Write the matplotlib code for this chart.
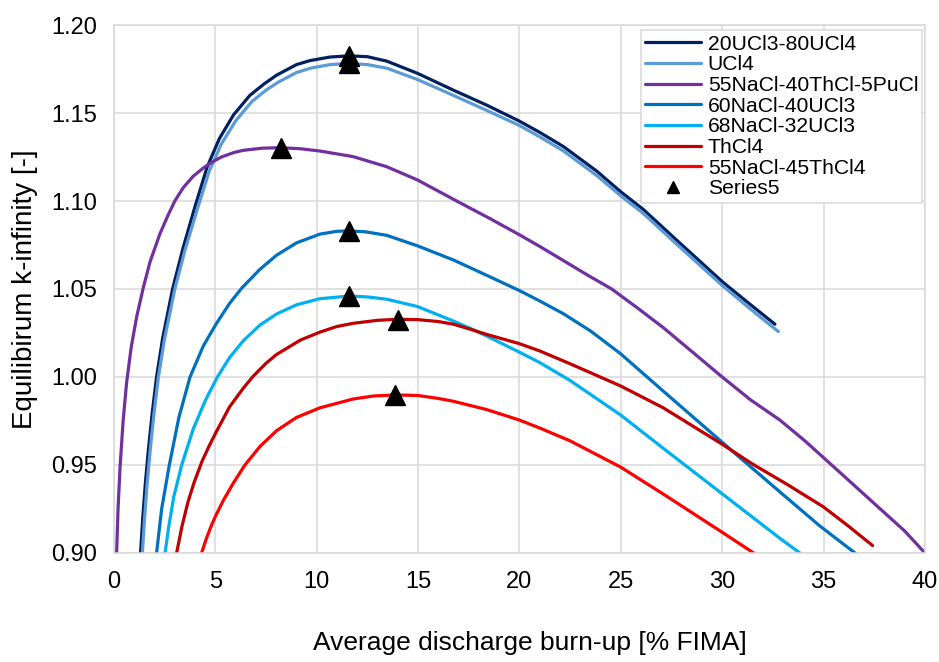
"""Equilibrium k-infinity versus average discharge burn-up for several salts.

Peak markers (Series5) sit on top of each curve's maximum.
"""

import matplotlib
matplotlib.use("Agg")
import matplotlib.pyplot as plt

plt.rcParams["font.family"] = ["Liberation Sans", "DejaVu Sans"]

# ── data ─────────────────────────────────────────────────────────────────
UCL3_UCL4_X = [1.31, 1.42, 1.55, 1.70, 1.88, 2.10, 2.40, 2.89, 3.40, 4.00, 4.60, 5.20,
               5.90, 6.70, 7.40, 8.02, 9.00, 9.67, 10.65, 11.60, 12.50, 13.45, 14.98,
               16.74, 18.38, 19.98, 21.00, 22.16, 23.81, 24.99, 26.10, 27.75, 30.00,
               31.30, 32.60]
UCL3_UCL4_Y = [0.900, 0.920, 0.940, 0.959, 0.979, 1.000, 1.022, 1.050, 1.073, 1.097,
               1.1195, 1.1355, 1.149, 1.160, 1.1665, 1.1715, 1.1775, 1.1798, 1.1818,
               1.1825, 1.182, 1.1795, 1.1725, 1.163, 1.1545, 1.1455, 1.139, 1.131, 1.117,
               1.1053, 1.0953, 1.0778, 1.0542, 1.042, 1.030]

UCL4_X = [1.40, 1.51, 1.64, 1.79, 1.97, 2.19, 2.50, 3.00, 3.50, 4.10, 4.70, 5.30, 6.00,
          6.80, 7.50, 8.10, 9.00, 9.70, 10.65, 11.60, 12.50, 13.45, 14.98, 16.74, 18.38,
          19.98, 21.00, 22.16, 23.81, 24.99, 26.10, 27.75, 30.00, 31.30, 32.77]
UCL4_Y = [0.900, 0.920, 0.940, 0.959, 0.979, 1.000, 1.022, 1.050, 1.072, 1.095, 1.117,
          1.1325, 1.1455, 1.1565, 1.163, 1.1675, 1.1730, 1.1755, 1.1775, 1.1782, 1.1775,
          1.1755, 1.169, 1.160, 1.1515, 1.1430, 1.1365, 1.1285, 1.1145, 1.1030, 1.0930,
          1.0755, 1.0520, 1.0395, 1.0258]

PUCL_X = [0.13, 0.20, 0.30, 0.45, 0.62, 0.85, 1.12, 1.45, 1.78, 2.27, 2.65, 3.00, 3.41,
          3.90, 4.40, 4.73, 5.30, 5.90, 6.37, 7.30, 8.20, 9.20, 10.16, 11.80, 13.45, 14.98,
          16.90, 18.50, 20.00, 21.00, 22.16, 23.30, 24.55, 25.80, 27.10, 28.50, 30.00,
          31.40, 32.85, 34.10, 35.40, 36.60, 37.80, 39.00, 40.00]
PUCL_Y = [0.900, 0.925, 0.949, 0.975, 0.9966, 1.017, 1.0343, 1.051, 1.0655, 1.0815,
          1.0915, 1.100, 1.1075, 1.1140, 1.1187, 1.1214, 1.1250, 1.1275, 1.1288, 1.1300,
          1.1303, 1.1297, 1.1284, 1.1252, 1.1195, 1.1119, 1.100, 1.0903, 1.0808, 1.0742,
          1.0662, 1.0583, 1.050, 1.0394, 1.028, 1.0145, 1.000, 0.987, 0.9755, 0.9635,
          0.950, 0.9375, 0.925, 0.9125, 0.900]

NACL_UCL3_40_X = [2.10, 2.35, 2.73, 3.20, 3.75, 4.40, 5.03, 5.70, 6.30, 7.20, 8.02, 9.00,
                  10.16, 11.00, 11.60, 12.40, 13.45, 14.98, 16.74, 18.38, 19.98, 21.00,
                  22.16, 23.50, 24.99, 27.09, 29.97, 31.50, 33.00, 34.80, 36.55]
NACL_UCL3_40_Y = [0.900, 0.925, 0.950, 0.977, 1.000, 1.0175, 1.0300, 1.0418, 1.0505,
                  1.0612, 1.0692, 1.0762, 1.0812, 1.0828, 1.0830, 1.0825, 1.0805, 1.0745,
                  1.0665, 1.0578, 1.0492, 1.0432, 1.0360, 1.0262, 1.0132, 0.9920, 0.9632,
                  0.9480, 0.9332, 0.9155, 0.900]

NACL_UCL3_32_X = [2.52, 2.70, 2.95, 3.34, 3.91, 4.50, 5.10, 5.70, 6.37, 7.20, 8.02, 9.00,
                  10.16, 11.60, 12.50, 13.45, 14.98, 16.74, 17.56, 18.38, 19.98, 21.00,
                  22.50, 24.99, 27.09, 29.97, 32.85, 33.83]
NACL_UCL3_32_Y = [0.900, 0.915, 0.932, 0.950, 0.9705, 0.9865, 1.000, 1.0110, 1.0205,
                  1.0295, 1.0358, 1.0410, 1.0445, 1.0460, 1.0455, 1.0442, 1.0400, 1.0318,
                  1.0277, 1.0233, 1.0142, 1.0082, 0.998, 0.9784, 0.9595, 0.9339, 0.9083,
                  0.900]

THCL4_X = [3.09, 3.35, 3.65, 3.95, 4.34, 4.70, 5.03, 5.70, 6.37, 6.87, 7.50, 8.02, 9.20,
           10.16, 11.00, 11.80, 13.00, 13.99, 14.98, 16.00, 16.74, 17.56, 18.38, 19.98,
           21.00, 22.50, 24.99, 27.09, 29.97, 31.50, 33.20, 34.98, 36.20, 37.42]
THCL4_Y = [0.900, 0.915, 0.929, 0.940, 0.952, 0.961, 0.9685, 0.983, 0.9935, 1.0005,
           1.0078, 1.0128, 1.0210, 1.0255, 1.0287, 1.0305, 1.0322, 1.0328, 1.0326, 1.0315,
           1.0300, 1.0272, 1.0242, 1.0190, 1.0148, 1.0075, 0.9949, 0.9825, 0.962, 0.9505,
           0.939, 0.9263, 0.9155, 0.9042]

NACL_THCL4_X = [4.32, 4.55, 4.80, 5.03, 5.40, 5.90, 6.46, 7.20, 8.02, 9.00, 10.16, 10.65,
                11.80, 12.80, 13.86, 14.98, 16.00, 16.74, 18.38, 19.98, 21.00, 22.50,
                24.99, 27.09, 29.97, 31.55]
NACL_THCL4_Y = [0.900, 0.908, 0.9155, 0.9215, 0.930, 0.940, 0.950, 0.9605, 0.9695, 0.977,
                0.9825, 0.984, 0.9875, 0.9892, 0.9898, 0.9895, 0.9878, 0.9862, 0.9815,
                0.9756, 0.971, 0.9637, 0.9488, 0.9335, 0.912, 0.900]

PEAK_X = [11.60, 11.60, 8.22, 11.59, 11.60, 13.99, 13.86]
PEAK_Y = [1.1822, 1.1785, 1.1303, 1.0828, 1.0460, 1.0326, 0.9898]

SERIES = [
    ("20UCl3-80UCl4", UCL3_UCL4_X, UCL3_UCL4_Y, "#002060"),
    ("UCl4", UCL4_X, UCL4_Y, "#5B9BD5"),
    ("55NaCl-40ThCl-5PuCl", PUCL_X, PUCL_Y, "#7030A0"),
    ("60NaCl-40UCl3", NACL_UCL3_40_X, NACL_UCL3_40_Y, "#0070C0"),
    ("68NaCl-32UCl3", NACL_UCL3_32_X, NACL_UCL3_32_Y, "#00B0F0"),
    ("ThCl4", THCL4_X, THCL4_Y, "#C00000"),
    ("55NaCl-45ThCl4", NACL_THCL4_X, NACL_THCL4_Y, "#FF0000"),
]

GRID = "#D9D9D9"


def build_fig(out_path="out.png"):
    fig = plt.figure(figsize=(9.39, 6.62), dpi=100)
    ax = fig.add_axes([0.1214, 0.1647, 0.8636, 0.7975])

    for name, xs, ys, col in SERIES:
        ax.plot(xs, ys, color=col, linewidth=2.3, label=name,
                solid_capstyle="round", solid_joinstyle="round")
    ax.plot(PEAK_X, PEAK_Y, linestyle="none", marker="^", markersize=15,
            color="black", label="Series5", zorder=5)

    ax.set_xlim(0, 40)
    ax.set_ylim(0.90, 1.20)
    ax.set_xticks(range(0, 41, 5))
    ax.set_yticks([0.90, 0.95, 1.00, 1.05, 1.10, 1.15, 1.20])
    ax.set_yticklabels([f"{v:.2f}" for v in ax.get_yticks()])
    ax.grid(True, color=GRID, linewidth=1.1)
    ax.set_axisbelow(True)
    for sp in ax.spines.values():
        sp.set_color(GRID)
        sp.set_linewidth(1.1)
    ax.tick_params(axis="both", length=0, labelsize=17, colors="black")
    ax.tick_params(axis="x", pad=13)
    ax.tick_params(axis="y", pad=12)

    ax.set_xlabel("Average discharge burn-up [% FIMA]", fontsize=19, labelpad=27,
                  x=0.513)
    ax.set_ylabel("Equilibirum k-infinity [-]", fontsize=20, labelpad=10)

    leg = ax.legend(loc="upper right", bbox_to_anchor=(0.997, 0.99), fontsize=15.2,
                    frameon=True, fancybox=False, framealpha=1, edgecolor=GRID,
                    borderpad=0.2, labelspacing=0.08, handlelength=2.65,
                    handletextpad=0.3, markerscale=0.55, borderaxespad=0)
    leg.get_frame().set_linewidth(1.1)

    fig.savefig(out_path, dpi=100)
    plt.close(fig)


if __name__ == "__main__":
    build_fig()
